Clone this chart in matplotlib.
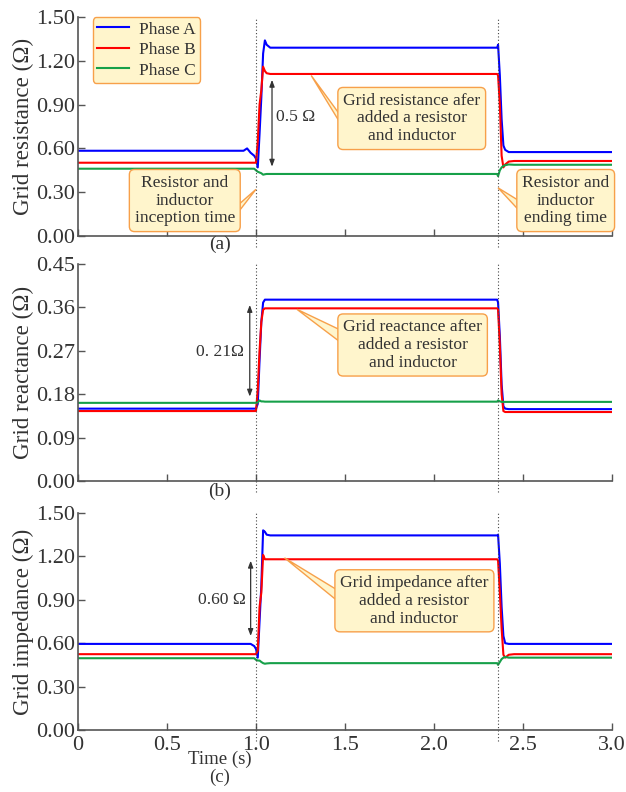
import matplotlib
matplotlib.use("Agg")
import matplotlib.pyplot as plt
from matplotlib.lines import Line2D
from matplotlib.patches import Polygon

plt.rcParams["font.family"] = ["Liberation Serif", "DejaVu Serif"]
plt.rcParams["mathtext.fontset"] = "stix"

# %%
# Data (time breakpoints shared by all traces)
# ---------------------------------------------------------------------
time_s = [0, 0.93, 0.95, 0.97, 0.99, 1.00, 1.01, 1.02, 1.03, 1.04, 1.05,
          1.06, 1.08, 2.355, 2.36, 2.37, 2.38, 2.39, 2.40, 2.42, 2.45, 3.0]

res_a = [0.584, 0.584, 0.60, 0.57, 0.55, 0.53, 0.47, 0.70, 0.95, 1.25, 1.34,
         1.31, 1.29, 1.29, 1.31, 1.10, 0.80, 0.62, 0.59, 0.575, 0.575, 0.575]
res_b = [0.502, 0.502, 0.502, 0.502, 0.502, 0.502, 0.65, 0.90, 1.00, 1.16, 1.13,
         1.115, 1.11, 1.11, 1.10, 0.90, 0.55, 0.47, 0.49, 0.51, 0.514, 0.514]
res_c = [0.461, 0.461, 0.461, 0.461, 0.461, 0.45, 0.44, 0.435, 0.43, 0.42, 0.423,
         0.425, 0.425, 0.425, 0.41, 0.45, 0.47, 0.48, 0.485, 0.49, 0.488, 0.488]

rea_a = [0.150, 0.150, 0.150, 0.150, 0.150, 0.150, 0.16, 0.25, 0.33, 0.37, 0.376,
         0.376, 0.376, 0.376, 0.37, 0.30, 0.20, 0.155, 0.15, 0.149, 0.149, 0.149]
rea_b = [0.145, 0.145, 0.145, 0.145, 0.145, 0.145, 0.19, 0.27, 0.33, 0.355, 0.358,
         0.358, 0.358, 0.358, 0.356, 0.28, 0.18, 0.145, 0.143, 0.143, 0.143, 0.143]
rea_c = [0.162, 0.162, 0.162, 0.162, 0.162, 0.162, 0.163, 0.167, 0.165, 0.165, 0.1645,
         0.1645, 0.1645, 0.1645, 0.167, 0.165, 0.164, 0.164, 0.164, 0.164, 0.164, 0.164]

imp_a = [0.595, 0.595, 0.595, 0.595, 0.58, 0.56, 0.50, 0.75, 1.00, 1.38, 1.37,
         1.35, 1.345, 1.345, 1.35, 1.15, 0.85, 0.65, 0.60, 0.595, 0.595, 0.595]
imp_b = [0.524, 0.524, 0.524, 0.524, 0.524, 0.524, 0.55, 0.85, 0.95, 1.21, 1.18,
         1.18, 1.18, 1.18, 1.17, 0.95, 0.70, 0.52, 0.50, 0.52, 0.524, 0.524]
imp_c = [0.496, 0.496, 0.496, 0.496, 0.496, 0.485, 0.48, 0.48, 0.47, 0.462, 0.458,
         0.46, 0.462, 0.462, 0.45, 0.47, 0.49, 0.50, 0.505, 0.50, 0.50, 0.50]

phase_labels = ["Phase A", "Phase B", "Phase C"]
x_ticks = [0, 0.5, 1.0, 1.5, 2.0, 2.5, 3.0]
x_tick_labels = ["0", "0.5", "1.0", "1.5", "2.0", "2.5", "3.0"]
res_ticks = [0.00, 0.30, 0.60, 0.90, 1.20, 1.50]
rea_ticks = [0.00, 0.09, 0.18, 0.27, 0.36, 0.45]
imp_ticks = [0.00, 0.30, 0.60, 0.90, 1.20, 1.50]
t_start, t_end = 1.0, 2.36

COLORS = ["#0000ff", "#ff0000", "#16a049"]
TEXT = "#333333"
BOX_FC = "#fff5cc"
BOX_EC = "#f7a04a"
NOTE_FS = 12.6

fig = plt.figure(figsize=(6.26, 7.92), dpi=100)
left, width = 0.1246, 0.853
ax_a = fig.add_axes([left, 0.702, width, 0.2765])
ax_b = fig.add_axes([left, 0.3927, width, 0.274])
ax_c = fig.add_axes([left, 0.0783, width, 0.274])

panels = [
    (ax_a, [res_a, res_b, res_c], res_ticks, "Grid resistance (Ω)"),
    (ax_b, [rea_a, rea_b, rea_c], rea_ticks, "Grid reactance (Ω)"),
    (ax_c, [imp_a, imp_b, imp_c], imp_ticks, "Grid impedance (Ω)"),
]

for ax, series, yticks, ylabel in panels:
    for vals, col in zip(series, COLORS):
        ax.plot(time_s, vals, color=col, lw=1.5)
    for tv in (t_start, t_end):
        ax.axvline(tv, color="#444444", ls=(0, (1, 2)), lw=0.8, ymin=-0.05,
                   clip_on=False)
    ax.set_xlim(0, 3.0)
    ax.set_ylim(yticks[0], yticks[-1])
    ax.set_yticks(yticks)
    ax.set_yticklabels([f"{v:.2f}" for v in yticks])
    ax.set_xticks(x_ticks)
    ax.set_ylabel(ylabel, fontsize=16.6, color=TEXT)
    ax.yaxis.set_label_coords(-0.083, 0.5)
    for side in ("top", "right"):
        ax.spines[side].set_visible(False)
    for side in ("left", "bottom"):
        ax.spines[side].set_color("#555555")
        ax.spines[side].set_linewidth(1.2)
    ax.tick_params(direction="in", length=5, width=1, colors="#555555",
                   labelcolor=TEXT, labelsize=16, pad=2)

ax_a.set_xticklabels([])
ax_b.set_xticklabels([])
ax_c.set_xticklabels(x_tick_labels)
ax_c.tick_params(axis="x", pad=4)

fig.text(0.3515, 0.691, "(a)", ha="center", va="center", fontsize=14, color=TEXT)
fig.text(0.3515, 0.380, "(b)", ha="center", va="center", fontsize=14, color=TEXT)
fig.text(0.3515, 0.0415, "Time (s)", ha="center", va="center", fontsize=13.5, color=TEXT)
fig.text(0.3515, 0.0185, "(c)", ha="center", va="center", fontsize=13.5, color=TEXT)

# legend
handles = [Line2D([0], [0], color=c, lw=1.5) for c in COLORS]
leg = ax_a.legend(handles, phase_labels, loc="upper left",
                  bbox_to_anchor=(0.028, 1.0), borderaxespad=0, fontsize=12.5,
                  frameon=True, fancybox=True, handlelength=1.8,
                  borderpad=0.25, labelspacing=0.25, handletextpad=0.6)
leg.get_frame().set_facecolor(BOX_FC)
leg.get_frame().set_edgecolor(BOX_EC)
leg.get_frame().set_alpha(1)
leg.get_frame().set_linewidth(1.0)
for t in leg.get_texts():
    t.set_color(TEXT)

bbox = dict(boxstyle="round,pad=0.3,rounding_size=0.3", fc=BOX_FC, ec=BOX_EC, lw=1)


def callout(ax, text, center, tip, base):
    """Text box with a wedge pointer: narrow at tip, wide at the box edge."""
    ax.text(center[0], center[1], text, ha="center", va="center",
            fontsize=NOTE_FS, color=TEXT, bbox=bbox, linespacing=1.15, zorder=5)
    wedge = Polygon([tip, base[0], base[1]], closed=True, fc=BOX_FC, ec=BOX_EC,
                    lw=1, zorder=4, clip_on=False)
    ax.add_patch(wedge)


def span_arrow(ax, x, y0, y1, label, lx, ly, ha):
    ax.annotate("", xy=(x, y1), xytext=(x, y0),
                arrowprops=dict(arrowstyle="<|-|>,head_length=0.4,head_width=0.15",
                                color="#333333", lw=0.9, shrinkA=0, shrinkB=0))
    ax.text(lx, ly, label, ha=ha, va="center", fontsize=NOTE_FS, color=TEXT)


# panel (a)
callout(ax_a, "Grid resistance afer\nadded a resistor\nand inductor",
        (1.875, 0.805), (1.31, 1.10), [(1.52, 0.75), (1.52, 0.68)])
callout(ax_a, "Resistor and\ninductor\ninception time",
        (0.60, 0.243), (1.0, 0.32), [(0.86, 0.17), (0.86, 0.10)])
callout(ax_a, "Resistor and\ninductor\nending time",
        (2.74, 0.243), (2.36, 0.33), [(2.52, 0.21), (2.52, 0.12)])
span_arrow(ax_a, 1.09, 0.475, 1.07, "0.5 Ω", 1.11, 0.815, "left")

# panel (b)
callout(ax_b, "Grid reactance after\nadded a resistor\nand inductor",
        (1.88, 0.282), (1.23, 0.356), [(1.52, 0.305), (1.52, 0.275)])
span_arrow(ax_b, 0.965, 0.175, 0.365, "0. 21Ω", 0.93, 0.268, "right")

# panel (c)
callout(ax_c, "Grid impedance after\nadded a resistor\nand inductor",
        (1.89, 0.893), (1.16, 1.19), [(1.52, 0.92), (1.52, 0.83)])
span_arrow(ax_c, 0.97, 0.65, 1.17, "0.60 Ω", 0.945, 0.90, "right")

fig.savefig("out.png", dpi=100)
